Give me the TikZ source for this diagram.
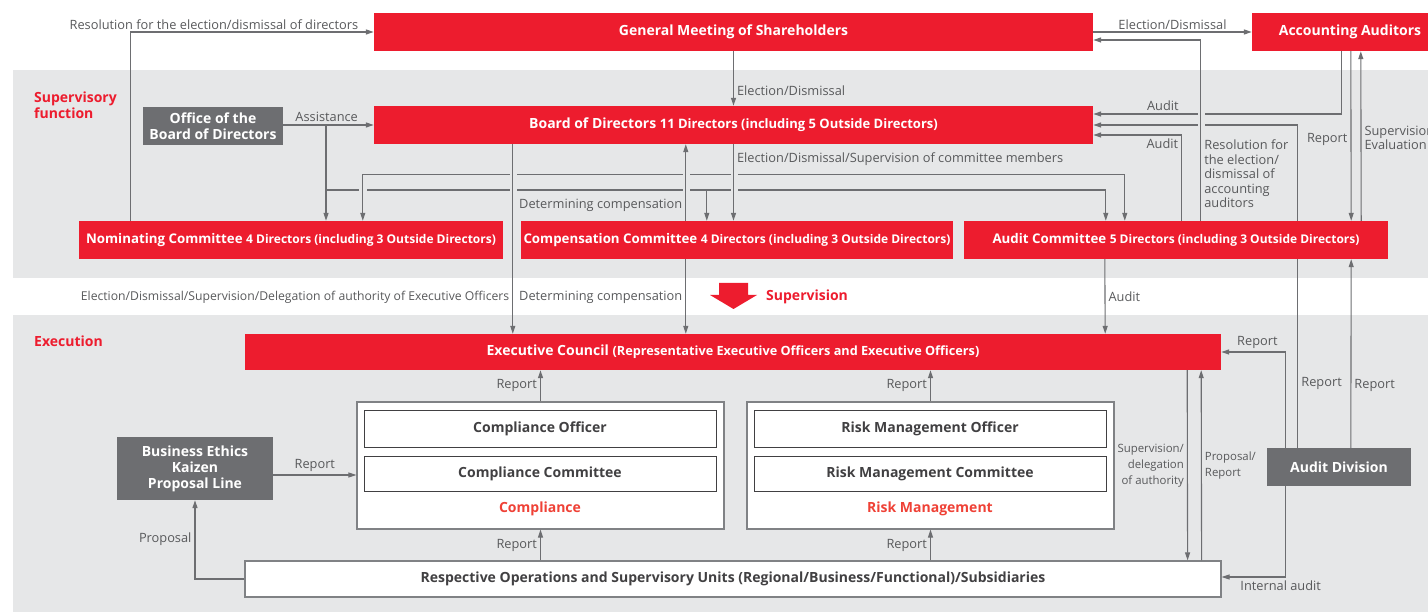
\documentclass[tikz,border=0pt]{standalone}
\usepackage{fontspec}
\setmainfont{Open Sans}
\usetikzlibrary{positioning, arrows.meta, calc}
\definecolor{hdred}{HTML}{ED1C2E}
\definecolor{subred}{HTML}{EF4136}
\definecolor{hdgray}{HTML}{6D6E71}
\definecolor{bandgray}{HTML}{E6E7E8}
\definecolor{linegray}{HTML}{6D6E71}
\definecolor{txtgray}{HTML}{58595B}
\definecolor{txtdark}{HTML}{414042}
\definecolor{framegray}{HTML}{808285}

\newcommand{\bigt}{\fontsize{14}{16}\selectfont}
\newcommand{\comt}{\fontsize{13.3}{15}\selectfont}
\newcommand{\midt}{\fontsize{12}{14}\selectfont}
\newcommand{\lblt}{\fontsize{12.8}{14.5}\selectfont}
\newcommand{\tinyt}{\fontsize{11.4}{16}\selectfont}

\tikzset{
  redbox/.style={fill=hdred, text=white, font=\bfseries\bigt, inner sep=0pt},
  combox/.style={redbox, font=\bfseries\comt, minimum width=424pt, minimum height=38pt},
  darkbox/.style={fill=hdgray, text=white, font=\bfseries\bigt, align=center, inner sep=0pt},
  framebox/.style={fill=white, draw=framegray, line width=1.2pt, inner sep=0pt},
  subbox/.style={fill=white, draw=txtdark, line width=1pt, text=txtdark, font=\bfseries\bigt,
    minimum width=352pt, inner sep=0pt},
  conn/.style={draw=linegray, line width=1.1pt},
  arr/.style={conn, -{Triangle[length=8pt, width=5pt]}},
  lbl/.style={text=txtgray, font=\lblt, inner sep=3pt},
  headlbl/.style={text=hdred, font=\bfseries\bigt, inner sep=0pt},
}

\begin{document}
\begin{tikzpicture}[x=1pt, y=-1pt]
  \useasboundingbox (0,0) rectangle (1428,612);
  % bands
  \fill[bandgray] (13,70) rectangle (1428,278);
  \fill[bandgray] (13,315) rectangle (1428,612);

  \node[headlbl, anchor=north west, align=left] (suplbl) at (34,92) {Supervisory\\function};
  \node[headlbl, anchor=west] (exelbl) at (34,341) {Execution};

  % supervisory side
  \node[redbox, minimum width=719pt, minimum height=38pt] (gms) at (733.5,32) {General Meeting of Shareholders};
  \node[redbox, minimum width=196pt, minimum height=38pt] (acc) at (1350,32) {Accounting Auditors};
  \node[darkbox, minimum width=140pt, minimum height=38pt] (office) at (213,126) {Office of the\\Board of Directors};
  \node[redbox, minimum width=719pt, minimum height=38pt] (bod) at (733.5,125)
    {Board of Directors {\fontsize{13}{15}\selectfont 11 Directors (including 5 Outside Directors)}};
  \node[darkbox, minimum width=144pt, minimum height=38pt] (auddiv) at (1339,467) {Audit Division};

  % report line runs behind the audit committee
  \draw[arr] ([xshift=31pt]auddiv.north west) |- (bod.east)
    node[lbl, pos=0.1, right] {Report};

  \node[combox] (nom) at (291,240)
    {Nominating Committee {\midt 4 Directors (including 3 Outside Directors)}};
  \node[combox, minimum width=432pt] (comp) at (737,240)
    {Compensation Committee {\midt 4 Directors (including 3 Outside Directors)}};
  \node[combox] (audc) at (1176,240)
    {Audit Committee {\midt 5 Directors (including 3 Outside Directors)}};

  % execution side
  \node[redbox, minimum width=976pt, minimum height=36pt] (exec) at (733,352)
    {Executive Council {\fontsize{12.7}{14}\selectfont (Representative Executive Officers and Executive Officers)}};
  \node[framebox, minimum width=367pt, minimum height=127pt] (cbox) at (540.5,465.5) {};
  \node[subbox, minimum height=36pt] (cofficer) at (540,429) {Compliance Officer};
  \node[subbox, minimum height=35pt] (ccomm) at (540,473.5) {Compliance Committee};
  \node[headlbl, text=subred] (clbl) at (540,509) {Compliance};
  \node[framebox, minimum width=367pt, minimum height=127pt] (rbox) at (930.5,465.5) {};
  \node[subbox, minimum height=36pt] (rofficer) at (930,429) {Risk Management Officer};
  \node[subbox, minimum height=35pt] (rcomm) at (930,473.5) {Risk Management Committee};
  \node[headlbl, text=subred] (rlbl) at (930,509) {Risk Management};
  \node[darkbox, minimum width=156pt, minimum height=63pt] (ethics) at (195,468.5)
    {Business Ethics\\Kaizen\\Proposal Line};
  \node[framebox, text=txtdark, font=\bfseries\bigt, minimum width=976pt, minimum height=36pt] (ops) at (733,579)
    {Respective Operations and Supervisory Units (Regional/Business/Functional)/Subsidiaries};

  % supervision arrow
  \fill[hdred] (719,283) -- (748,283) -- (748,295) -- (757,295) -- (733.5,309) -- (710,295) -- (719,295) -- cycle;
  \node[headlbl, anchor=west] (suparr) at (766,297) {Supervision};

  % shareholders and auditors
  \draw[arr] ([xshift=52pt]nom.north west) |- (gms.west)
    node[lbl, pos=0.975, above left, yshift=-1pt] {Resolution for the election/dismissal of directors};
  \draw[arr] (gms.south) -- (bod.north) node[lbl, pos=0.72, right] {Election/Dismissal};
  \draw[arr] (gms.east) -- (acc.west) node[lbl, midway, above, yshift=-1pt] {Election/Dismissal};
  \draw[arr] ([xshift=90pt]acc.south west) |- ([yshift=11pt]bod.east)
    node[lbl, pos=0.86, above] {Audit};
  \draw[arr] ([xshift=218pt]audc.north west) |- ([yshift=-10pt]bod.east)
    node[lbl, pos=0.61, below] {Audit};
  \draw[arr] ([xshift=99pt]acc.south west) -- ([xshift=-37pt]audc.north east)
    node[lbl, pos=0.52, left] {Report};
  \draw[arr] ([xshift=-27pt]audc.north east) -- ([xshift=109pt]acc.south west)
    node[lbl, pos=0.49, right, align=left] {Supervision/\\Evaluation};
  \draw[arr] ([xshift=84pt]auddiv.north west) -- ([xshift=-37pt]audc.south east)
    node[lbl, pos=0.33, right] {Report};

  % office of the board
  \draw[arr] (office.east |- bod.west) -- (bod.west) coordinate[pos=0.4725] (asst)
    node[lbl, pos=0.48, above] {Assistance};
  \draw[arr] (asst) -- (asst |- nom.north);
  \draw[arr] (asst) -- ++(0,65) -| ([xshift=142pt]audc.north west);
  \draw[arr] ([xshift=186pt, yshift=31pt]comp.north west) -- ([xshift=186pt]comp.north west);
  \fill[bandgray] (359,187) rectangle (367,193);
  \draw[arr, {Triangle[length=8pt, width=5pt]}-{Triangle[length=8pt, width=5pt]}]
    ([xshift=284pt]nom.north west) -- ++(0,-46) -| ([xshift=161pt]audc.north west);

  % crossings
  \foreach \gx in {513,686,734}
    \fill[bandgray] (\gx-3.5,169) rectangle (\gx+3.5,196);
  \fill[bandgray] (1197.5,109) rectangle (1204.5,130);

  \draw[arr] (bod.south) -- (bod.south |- comp.north)
    node[lbl, pos=0.2, right] {Election/Dismissal/Supervision of committee members};
  \draw[arr] ([xshift=165pt]comp.north west) -- ([xshift=312pt]bod.south west)
    node[lbl, pos=0.2, left] {Determining compensation};
  \draw[arr] ([xshift=139pt]bod.south west) -- ([xshift=268pt]exec.north west)
    node[lbl, pos=0.805, left, font=\fontsize{12.2}{14}\selectfont] {Election/Dismissal/Supervision/Delegation of authority of Executive Officers};
  \draw[arr] ([xshift=165pt]comp.south west) -- ([xshift=441pt]exec.north west)
    node[lbl, pos=0.507, left] {Determining compensation};
  \draw[arr] ([xshift=141pt]audc.south west) -- ([xshift=-116pt]exec.north east)
    node[lbl, pos=0.507, right] {Audit};
  \draw[arr] ([xshift=237pt]audc.north west) |- ([yshift=-8pt]gms.east)
    node[lbl, pos=0.13, right, align=left] {Resolution for\\the election/\\dismissal of\\accounting\\auditors};

  % execution lines
  \draw[arr] (cbox.north) -- (cbox.north |- exec.south) node[lbl, midway, left] {Report};
  \draw[arr] (rbox.north) -- (rbox.north |- exec.south) node[lbl, midway, left] {Report};
  \draw[arr] (cbox.south |- ops.north) -- (cbox.south) node[lbl, midway, left] {Report};
  \draw[arr] (rbox.south |- ops.north) -- (rbox.south) node[lbl, midway, left] {Report};
  \draw[arr] ([xshift=-34pt]exec.south east) -- ([xshift=-34pt]ops.north east)
    node[lbl, midway, left, align=right, font=\tinyt] {Supervision/\\delegation\\of authority};
  \draw[arr] ([xshift=-20pt]ops.north east) -- ([xshift=-20pt]exec.south east)
    node[lbl, midway, right, align=left, font=\tinyt] {Proposal/\\Report};
  \draw[arr] ([xshift=19pt]auddiv.north west) |- (exec.east)
    node[lbl, pos=0.72, above] {Report};
  \draw[arr] ([xshift=19pt]auddiv.south west) |- ([yshift=2pt]ops.east)
    node[lbl, pos=0.54, below] {Internal audit};
  \draw[arr] ([yshift=-6.5pt]ethics.east) -- ([yshift=-9.5pt]cbox.west)
    node[lbl, midway, above] {Report};
  \draw[arr] (ops.west) -| (ethics.south) node[lbl, pos=0.75, left] {Proposal};
\end{tikzpicture}
\end{document}
